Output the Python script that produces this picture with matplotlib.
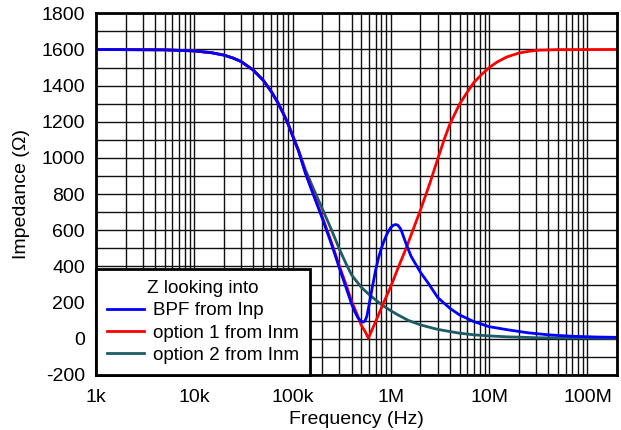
import matplotlib
matplotlib.use("Agg")
import matplotlib.pyplot as plt
from matplotlib.ticker import FixedLocator, MultipleLocator, LogLocator, NullFormatter

plt.rcParams['font.family'] = ['Liberation Sans', 'DejaVu Sans']
plt.rcParams['font.size'] = 14
plt.rcParams['axes.unicode_minus'] = False

# values (Hz, ohm)
bpf_f = [1e3, 5e3, 10e3, 15e3, 20e3, 25e3, 30e3, 40e3, 50e3, 60e3, 70e3, 80e3,
         90e3, 100e3, 115e3, 135e3, 160e3, 200e3, 250e3, 300e3, 350e3, 400e3,
         430e3, 460e3, 490e3, 520e3, 545e3, 570e3, 600e3, 650e3, 700e3, 750e3,
         800e3, 850e3, 900e3, 950e3, 1.0e6, 1.06e6, 1.12e6, 1.18e6, 1.25e6, 1.3e6,
         1.4e6, 1.6e6, 1.8e6, 2e6, 2.42e6, 3e6, 4e6, 5e6, 7e6, 10e6, 15.8e6,
         25e6, 40e6, 70e6, 120e6, 200e6]
bpf_z = [1600, 1598, 1592, 1582, 1569, 1552, 1533, 1485, 1431, 1372, 1311, 1249,
         1188, 1122, 1038, 916, 808, 668, 520, 390, 283, 190,
         150, 118, 100, 92, 98, 125, 187, 290, 380, 450,
         500, 540, 572, 598, 616, 628, 632, 628, 610, 588,
         538, 458, 410, 368, 305, 228, 168, 132, 95, 67, 49,
         33, 22, 14, 10, 8]

opt1_f = [1e3, 5e3, 10e3, 15e3, 20e3, 25e3, 30e3, 40e3, 50e3, 60e3, 70e3, 80e3,
          90e3, 100e3, 115e3, 135e3, 160e3, 200e3, 250e3, 300e3, 350e3, 400e3,
          450e3, 500e3, 550e3, 590e3, 700e3, 800e3, 910e3, 1.0e6, 1.2e6, 1.45e6,
          1.7e6, 2e6, 2.5e6, 3e6, 3.5e6, 4e6, 5e6, 6e6, 7e6, 8.5e6, 10e6, 12e6,
          15e6, 20e6, 26e6, 32e6, 50e6, 200e6]
opt1_z = [1600, 1598, 1592, 1582, 1569, 1552, 1533, 1485, 1431, 1372, 1311, 1249,
          1188, 1124, 1040, 920, 813, 675, 530, 400, 300, 205,
          140, 75, 38, 3, 95, 170, 240, 290, 400, 509,
          610, 712, 862, 995, 1105, 1190, 1298, 1365, 1418, 1465, 1500, 1530,
          1558, 1580, 1591, 1596, 1599, 1600]

opt2_f = [1e3, 5e3, 10e3, 15e3, 20e3, 25e3, 30e3, 40e3, 50e3, 60e3, 70e3, 80e3,
          90e3, 100e3, 115e3, 135e3, 160e3, 200e3, 250e3, 300e3, 350e3, 400e3,
          500e3, 600e3, 700e3, 800e3, 1.0e6, 1.2e6, 1.5e6, 2e6, 2.5e6, 3e6,
          4e6, 5e6, 7e6, 10e6, 15e6, 20e6, 30e6, 50e6, 100e6, 200e6]
opt2_z = [1600, 1598, 1592, 1582, 1569, 1552, 1533, 1485, 1431, 1372, 1311, 1249,
          1188, 1126, 1042, 935, 840, 721, 600, 495, 415, 352,
          285, 245, 215, 190, 155, 130, 102, 77, 63, 52,
          40, 31, 22, 16, 11, 9, 6, 5, 4, 3]

xticks = [1e3, 1e4, 1e5, 1e6, 1e7, 1e8]
xlabels = ['1k', '10k', '100k', '1M', '10M', '100M']
yticks = list(range(-200, 1801, 200))

fig = plt.figure(figsize=(6.21, 4.30), dpi=100)
ax = fig.add_axes([0.1546, 0.128, 0.8390, 0.841])

ax.plot(opt2_f, opt2_z, color='#1d5b66', lw=2.0, label='option 2 from Inm', zorder=3)
ax.plot(opt1_f, opt1_z, color='#ff0000', lw=2.0, label='option 1 from Inm', zorder=4)
ax.plot(bpf_f, bpf_z, color='#0000ff', lw=2.0, label='BPF from Inp', zorder=5)

ax.set_xscale('log')
ax.set_xlim(1e3, 200e6)
ax.set_ylim(-200, 1800)
ax.xaxis.set_major_locator(FixedLocator(xticks))
ax.set_xticklabels(xlabels)
ax.xaxis.set_minor_locator(LogLocator(base=10, subs=range(2, 10), numticks=20))
ax.xaxis.set_minor_formatter(NullFormatter())
ax.set_yticks(yticks)
ax.yaxis.set_minor_locator(MultipleLocator(100))
ax.tick_params(which='both', length=0)
ax.tick_params(axis='x', pad=10)
ax.tick_params(axis='y', pad=8)

ax.grid(True, which='both', color='#111111', lw=1.0)
ax.set_axisbelow(True)
for s in ax.spines.values():
    s.set_linewidth(2.0)
    s.set_zorder(6)

ax.set_xlabel('Frequency (Hz)', labelpad=3.5)
ax.set_ylabel('Impedance (Ω)', labelpad=8)

h, l = ax.get_legend_handles_labels()
order = [2, 1, 0]
leg = ax.legend([h[i] for i in order], [l[i] for i in order], title='Z looking into',
                loc='lower left', bbox_to_anchor=(0, 0), borderaxespad=0,
                fancybox=False, framealpha=1, edgecolor='black',
                handlelength=1.95, handletextpad=0.5, labelspacing=0.27,
                borderpad=0.58, fontsize=13.6, title_fontsize=13.6)
leg.get_frame().set_linewidth(2.0)
leg.set_zorder(10)

fig.savefig('out.png', dpi=100)
